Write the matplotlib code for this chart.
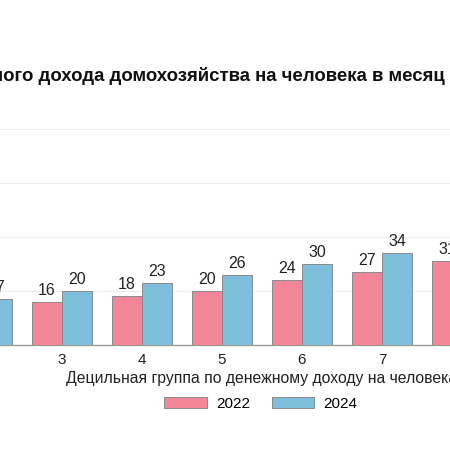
import numpy as np
import matplotlib
matplotlib.use("Agg")
import matplotlib.pyplot as plt

plt.rcParams["font.family"] = ["Liberation Sans", "DejaVu Sans"]

# decile groups visible in the crop (2 and 8 are only partly visible)
groups = [2, 3, 4, 5, 6, 7, 8]
vals_2022 = [13, 16, 18, 20, 24, 27, 31]
vals_2024 = [17, 20, 23, 26, 30, 34, 38]
series = ["2022", "2024"]
colors = ["#F4869A", "#7EC0DC"]

title = "Медиана среднедушевого денежного дохода домохозяйства на человека в месяц"
xlabel = "Децильная группа по денежному доходу на человека"

fig = plt.figure(figsize=(4.5, 4.5), dpi=100)
ax = fig.add_axes([0, 105 / 450, 1, 243 / 450])

x = np.array(groups, dtype=float)
w = 0.375
for i, (vals, c, lab) in enumerate(zip([vals_2022, vals_2024], colors, series)):
    bars = ax.bar(x + (i - 0.5) * w, vals, width=w, color=c, edgecolor="#8a8a8a",
                  linewidth=0.7, label=lab, zorder=3)
    # labels whose anchor falls just outside the axes should still be drawn
    ax.bar_label(bars, padding=3, fontsize=11.5, color="#222222",
                 annotation_clip=False)

ax.set_xticks(groups)
ax.set_yticks([20, 40, 60, 80])
ax.set_xlim(2.225, 7.85)
ax.set_ylim(0, 90)
ax.tick_params(axis="x", length=0, pad=6, labelsize=11, labelcolor="#222222")
ax.tick_params(axis="y", left=False, labelleft=False)
ax.grid(axis="y", color="#eeeeee", lw=0.8, zorder=0)
for s in ("top", "left", "right"):
    ax.spines[s].set_visible(False)
ax.spines["bottom"].set_color("#999999")
ax.spines["bottom"].set_linewidth(1.0)

fig.text(445 / 450, 1 - 81 / 450, title, ha="right", va="baseline",
         fontsize=13.4, fontweight="bold", color="#111111")
fig.text(66 / 450, 1 - 378 / 450, xlabel, ha="left", va="center",
         fontsize=11.3, color="#222222")

ax.legend(loc="center", bbox_to_anchor=(261 / 450, 1 - 404 / 450),
          bbox_transform=fig.transFigure, ncol=2, frameon=False,
          fontsize=11, handlelength=2.8, handleheight=0.7, columnspacing=1.4,
          handletextpad=0.6)

fig.savefig("out.png", dpi=100)
